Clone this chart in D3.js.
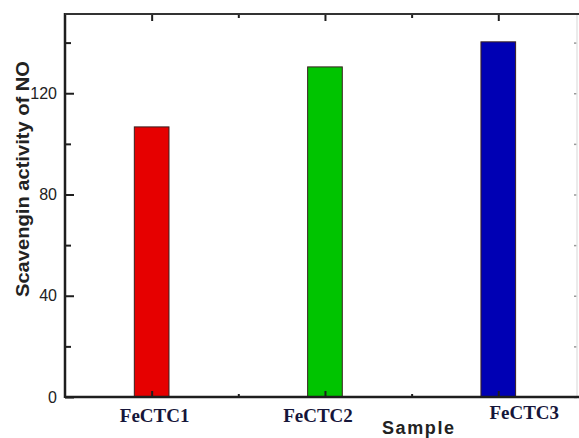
<!DOCTYPE html>
<html>
<head>
<meta charset="utf-8">
<script src="https://cdn.jsdelivr.net/npm/d3@7"></script>
<style>
  html, body { margin: 0; padding: 0; background: #fff; }
  svg { display: block; }
</style>
</head>
<body>
<div id="chart"></div>
<script>
let width = 579;
let height = 438;
let margin = { top: 14, right: 1, bottom: 41, left: 65 };

// data
let samples = ["FeCTC1", "FeCTC2", "FeCTC3"];
let scavenging = [106.7, 130.4, 140.3];
let barColors = ["#e60000", "#00c400", "#0000b4"];
let yTicks = [0, 40, 80, 120];
let yMinorTicks = [20, 60, 100, 140];

let chartData = samples.map((s, i) => ({ sample: s, pos: i + 1, value: scavenging[i], color: barColors[i] }));

let svg = d3.select("#chart")
  .append("svg")
  .attr("width", width)
  .attr("height", height);

let x = d3.scaleLinear()
  .domain([0.5, 3.46])
  .range([margin.left, width - margin.right]);

let y = d3.scaleLinear()
  .domain([0, 151.3])
  .range([height - margin.bottom, margin.top]);

let barHalf = 0.1;
let axisColor = "#1e1e1e";

// bars
svg.append("g")
  .selectAll("rect")
  .data(chartData)
  .enter()
  .append("rect")
  .attr("x", d => x(d.pos - barHalf))
  .attr("y", d => y(d.value))
  .attr("width", d => x(d.pos + barHalf) - x(d.pos - barHalf))
  .attr("height", d => y(0) - y(d.value))
  .attr("fill", d => d.color)
  .attr("stroke", "#3a2020")
  .attr("stroke-width", 1);

function styleAxis(g, w) {
  g.select(".domain").remove();
  g.selectAll("line").attr("stroke", axisColor).attr("stroke-width", w);
}

// left axis
svg.append("g")
  .attr("transform", `translate(${margin.left},0)`)
  .call(d3.axisLeft(y).tickValues(yTicks).tickSize(-9).tickPadding(8))
  .call(g => styleAxis(g, 2))
  .call(g => g.selectAll("text")
    .attr("font-family", "Liberation Sans, Arial, sans-serif")
    .attr("font-size", 16)
    .attr("fill", "#222"));

svg.append("g")
  .attr("transform", `translate(${margin.left},0)`)
  .call(d3.axisLeft(y).tickValues(yMinorTicks).tickSize(-6).tickFormat(""))
  .call(g => styleAxis(g, 2));

// right axis (faint, cut at the edge)
svg.append("g")
  .attr("transform", `translate(${width - margin.right - 1},0)`)
  .call(d3.axisRight(y).tickValues(yTicks.concat(yMinorTicks)).tickSize(-3).tickFormat(""))
  .call(g => g.select(".domain").remove())
  .call(g => g.selectAll("line").attr("stroke", "#999").attr("stroke-width", 1.5));

svg.append("line")
  .attr("x1", width - margin.right - 1).attr("x2", width - margin.right - 1)
  .attr("y1", y.range()[1]).attr("y2", y.range()[0])
  .attr("stroke", "#e4e4e4").attr("stroke-width", 1.5);

// bottom axis
svg.append("g")
  .attr("transform", `translate(0,${y(0)})`)
  .call(d3.axisBottom(x).tickValues([1, 2, 3]).tickSize(-6).tickFormat(""))
  .call(g => styleAxis(g, 2));

svg.append("g")
  .attr("transform", `translate(0,${y(0)})`)
  .call(d3.axisBottom(x).tickValues([1.5, 2.5]).tickSize(-3).tickFormat(""))
  .call(g => styleAxis(g, 2));

// top axis
svg.append("g")
  .attr("transform", `translate(0,${margin.top})`)
  .call(d3.axisTop(x).tickValues([1, 2, 3]).tickSize(-7).tickFormat(""))
  .call(g => styleAxis(g, 2));

svg.append("g")
  .attr("transform", `translate(0,${margin.top})`)
  .call(d3.axisTop(x).tickValues([1.5, 2.5]).tickSize(-4).tickFormat(""))
  .call(g => styleAxis(g, 2));

// frame lines
svg.append("line")
  .attr("x1", margin.left).attr("x2", margin.left)
  .attr("y1", y.range()[1] - 1).attr("y2", y.range()[0] + 1)
  .attr("stroke", axisColor).attr("stroke-width", 2.5);

svg.append("line")
  .attr("x1", margin.left).attr("x2", width)
  .attr("y1", y(0)).attr("y2", y(0))
  .attr("stroke", axisColor).attr("stroke-width", 2.5);

svg.append("line")
  .attr("x1", margin.left).attr("x2", width)
  .attr("y1", margin.top).attr("y2", margin.top)
  .attr("stroke", "#333").attr("stroke-width", 2);

// sample labels (slightly off-centre in the original)
let labelNudge = [{ dx: 3, dy: 0 }, { dx: -7, dy: 0 }, { dx: 26, dy: -3 }];

svg.append("g")
  .selectAll("text")
  .data(chartData)
  .enter()
  .append("text")
  .attr("x", (d, i) => x(d.pos) + labelNudge[i].dx)
  .attr("y", (d, i) => y(0) + 25 + labelNudge[i].dy)
  .attr("text-anchor", "middle")
  .attr("font-family", "Liberation Serif, Times New Roman, serif")
  .attr("font-weight", "bold")
  .attr("font-size", 19)
  .attr("fill", "#16163a")
  .text(d => d.sample);

// axis titles
svg.append("text")
  .attr("x", 418)
  .attr("y", 434)
  .attr("text-anchor", "middle")
  .attr("font-family", "Liberation Sans, Arial, sans-serif")
  .attr("font-weight", "bold")
  .attr("font-size", 18)
  .attr("textLength", 72)
  .attr("lengthAdjust", "spacing")
  .attr("fill", "#222")
  .text("Sample");

svg.append("text")
  .attr("transform", `translate(29, 179) rotate(-90)`)
  .attr("text-anchor", "middle")
  .attr("font-family", "Liberation Sans, Arial, sans-serif")
  .attr("font-weight", "bold")
  .attr("font-size", 19)
  .attr("textLength", 236)
  .attr("lengthAdjust", "spacingAndGlyphs")
  .attr("fill", "#222")
  .text("Scavengin activity of NO");
</script>
</body>
</html>
